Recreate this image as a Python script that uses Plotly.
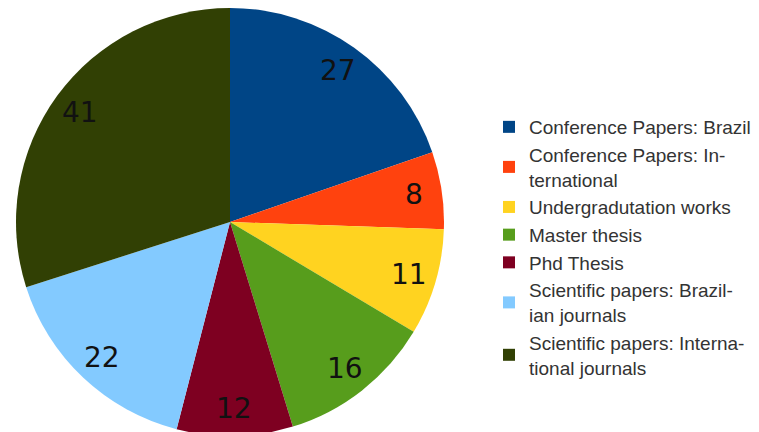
import math
import plotly.graph_objects as go

categories = [
    "Conference Papers: Brazil",
    "Conference Papers: In-<br>ternational",
    "Undergradutation works",
    "Master thesis",
    "Phd Thesis",
    "Scientific papers: Brazil-<br>ian journals",
    "Scientific papers: Interna-<br>tional journals",
]
values = [27, 8, 11, 16, 12, 22, 41]
colors = ["#004586", "#ff420e", "#ffd320", "#579d1c", "#7e0021", "#83caff", "#314004"]

W, H = 759, 432
# page has an 8px body margin; the layout below is expressed in figure pixels
CX, CY, R = 222, 214, 214  # pie centre / radius in figure pixels
LABEL_R = 0.87

fig = go.Figure(go.Pie(
    labels=categories,
    values=values,
    sort=False,
    direction="clockwise",
    rotation=0,
    marker=dict(colors=colors, line=dict(width=0)),
    textinfo="none",
    domain=dict(x=[(CX - R) / W, (CX + R) / W], y=[1 - (CY + R) / H, 1 - (CY - R) / H]),
    hoverinfo="label+value",
))

total = sum(values)
cum = 0
annotations = []
for v in values:
    mid = cum + v / 2
    cum += v
    ang = math.radians(90 - mid / total * 360)
    px = CX + LABEL_R * R * math.cos(ang)
    py = CY - LABEL_R * R * math.sin(ang)
    annotations.append(dict(
        x=px / W, y=1 - py / H, xref="paper", yref="paper",
        text=str(v), showarrow=False, xanchor="center", yanchor="middle",
        font=dict(family="DejaVu Sans", size=28, color="#111111"),
    ))

fig.update_layout(
    width=W, height=H,
    margin=dict(l=0, r=0, t=0, b=0),
    paper_bgcolor="white",
    showlegend=True,
    annotations=annotations,
    legend=dict(
        x=481 / W, y=1 - 100 / H, xanchor="left", yanchor="top",
        font=dict(family="Liberation Sans", size=19, color="#333333"),
        tracegroupgap=0, itemwidth=30,
    ),
)
fig.write_html("out.html")
